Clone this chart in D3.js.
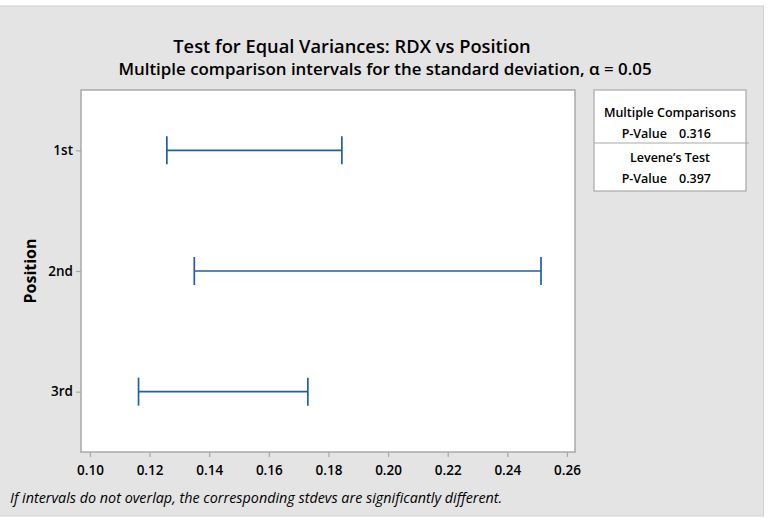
<!DOCTYPE html>
<html>
<head>
<meta charset="utf-8">
<script src="https://cdn.jsdelivr.net/npm/d3@7"></script>
<style>
  html, body { margin: 0; padding: 0; background: #ffffff; }
  svg { display: block; font-family: "Open Sans", "Noto Sans", sans-serif; }
</style>
</head>
<body>
<svg id="chart" width="769" height="519"></svg>
<script>
// Multiple comparison intervals for the standard deviation, by position
const positions = ["1st", "2nd", "3rd"];
const lowerBounds = [0.1258, 0.1350, 0.1163];
const upperBounds = [0.1845, 0.2513, 0.1731];
const xTicks = [0.10, 0.12, 0.14, 0.16, 0.18, 0.20, 0.22, 0.24, 0.26];
const legendRows = [
  { kind: "head", text: "Multiple Comparisons" },
  { kind: "pval", label: "P-Value", value: "0.316" },
  { kind: "head", text: "Levene\u2019s Test" },
  { kind: "pval", label: "P-Value", value: "0.397" }
];

const svg = d3.select("#chart");
const fontStack = "\"Open Sans\", \"Noto Sans\", sans-serif";

// outer panel
svg.append("rect").attr("x", -1).attr("y", 6).attr("width", 764.5).attr("height", 510)
  .attr("fill", "#e4e4e4").attr("stroke", "#d2d2d2").attr("stroke-width", 1);

// plot region
const plot = { left: 81, top: 90, right: 575, bottom: 452 };

const x = d3.scaleLinear().domain([0.097, 0.2627]).range([plot.left, plot.right]);
const y = d3.scalePoint().domain(positions).range([plot.top, plot.bottom]).padding(0.5);

svg.append("rect")
  .attr("x", plot.left).attr("y", plot.top)
  .attr("width", plot.right - plot.left).attr("height", plot.bottom - plot.top)
  .attr("fill", "#ffffff").attr("stroke", "#a8a8a8").attr("stroke-width", 1.5);

// x axis
const xAxis = d3.axisBottom(x).tickValues(xTicks).tickFormat(d3.format(".2f")).tickSize(5).tickSizeOuter(0);
const gx = svg.append("g").attr("transform", `translate(0,${plot.bottom})`).call(xAxis);
gx.select(".domain").remove();
gx.selectAll(".tick line").attr("stroke", "#a8a8a8").attr("stroke-width", 1.2);
gx.selectAll(".tick text").attr("fill", "#000").attr("font-size", 13.5).attr("font-weight", 600)
  .attr("font-family", fontStack).attr("y", 11).attr("dy", "0.9em");

// y axis
const yAxis = d3.axisLeft(y).tickSize(5).tickSizeOuter(0);
const gy = svg.append("g").attr("transform", `translate(${plot.left},0)`).call(yAxis);
gy.select(".domain").remove();
gy.selectAll(".tick line").attr("stroke", "#a8a8a8").attr("stroke-width", 1.2);
gy.selectAll(".tick text").attr("fill", "#000").attr("font-size", 13.5).attr("font-weight", 600)
  .attr("font-family", fontStack).attr("x", -8);

// y axis title
svg.append("text")
  .attr("transform", `translate(36,${(plot.top + plot.bottom) / 2}) rotate(-90)`)
  .attr("text-anchor", "middle")
  .attr("font-size", 16).attr("font-weight", "bold")
  .text("Position");

// intervals
const intervals = positions.map((p, i) => ({ p, lo: lowerBounds[i], hi: upperBounds[i] }));
const blue = "#1f5ea8";
const capHalf = 14;
const gi = svg.append("g").attr("stroke", blue).attr("stroke-width", 1.7).attr("fill", "none");
gi.selectAll("line.span").data(intervals).join("line").attr("class", "span")
  .attr("x1", d => x(d.lo)).attr("x2", d => x(d.hi))
  .attr("y1", d => y(d.p)).attr("y2", d => y(d.p));
gi.selectAll("line.capL").data(intervals).join("line").attr("class", "capL")
  .attr("x1", d => x(d.lo)).attr("x2", d => x(d.lo))
  .attr("y1", d => y(d.p) - capHalf).attr("y2", d => y(d.p) + capHalf);
gi.selectAll("line.capR").data(intervals).join("line").attr("class", "capR")
  .attr("x1", d => x(d.hi)).attr("x2", d => x(d.hi))
  .attr("y1", d => y(d.p) - capHalf).attr("y2", d => y(d.p) + capHalf);

// titles
svg.append("text").attr("x", 352).attr("y", 53).attr("text-anchor", "middle")
  .attr("font-size", 18.3).attr("font-weight", 600)
  .text("Test for Equal Variances: RDX vs Position");
svg.append("text").attr("x", 385).attr("y", 75).attr("text-anchor", "middle")
  .attr("font-size", 16.9).attr("font-weight", 600)
  .text("Multiple comparison intervals for the standard deviation, \u03b1 = 0.05");

// footnote
svg.append("text").attr("x", 10).attr("y", 503)
  .attr("font-size", 14.35).attr("font-style", "italic")
  .text("If intervals do not overlap, the corresponding stdevs are significantly different.");

// p-value box
const box = { left: 594, top: 90, right: 746, bottom: 191, divider: 143 };
const gb = svg.append("g");
gb.append("rect").attr("x", box.left).attr("y", box.top)
  .attr("width", box.right - box.left).attr("height", box.bottom - box.top)
  .attr("fill", "#ffffff").attr("stroke", "#a8a8a8").attr("stroke-width", 1.2);
gb.append("line").attr("x1", box.left).attr("x2", box.right + 3)
  .attr("y1", box.divider).attr("y2", box.divider)
  .attr("stroke", "#a8a8a8").attr("stroke-width", 1.2);
const rowY = [117, 138, 162, 183];
const cx = (box.left + box.right) / 2;
legendRows.forEach((r, i) => {
  if (r.kind === "head") {
    gb.append("text").attr("x", cx).attr("y", rowY[i]).attr("text-anchor", "middle")
      .attr("font-size", 12.5).attr("font-weight", 600).text(r.text);
  } else {
    gb.append("text").attr("x", cx - 3).attr("y", rowY[i]).attr("text-anchor", "end")
      .attr("font-size", 12.5).attr("font-weight", 600).text(r.label);
    gb.append("text").attr("x", cx + 9).attr("y", rowY[i]).attr("text-anchor", "start")
      .attr("font-size", 12.5).attr("font-weight", 600).text(r.value);
  }
});
</script>
</body>
</html>
